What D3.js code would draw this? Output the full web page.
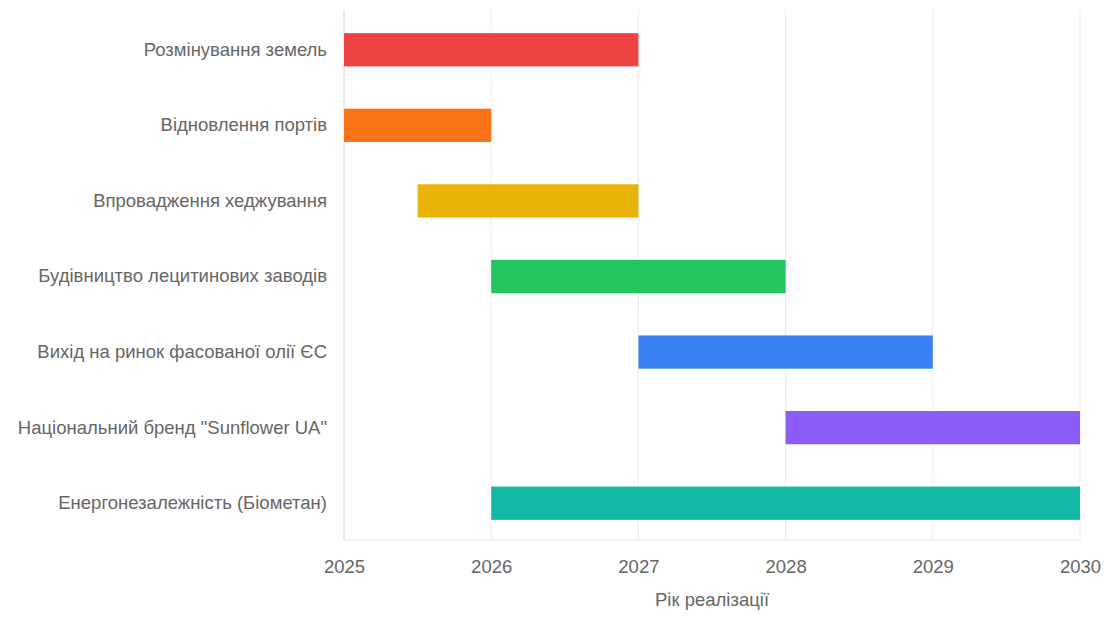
<!DOCTYPE html>
<html>
<head>
<meta charset="utf-8">
<script src="https://cdn.jsdelivr.net/npm/d3@7"></script>
<style>
  html, body { margin: 0; padding: 0; background: #fff; }
  svg { display: block; font-family: "Liberation Sans", Arial, sans-serif; }
</style>
</head>
<body>
<svg id="chart"></svg>
<script>
// ==============================
// DATA
// ==============================
const tasks = [
  "Розмінування земель",
  "Відновлення портів",
  "Впровадження хеджування",
  "Будівництво лецитинових заводів",
  "Вихід на ринок фасованої олії ЄС",
  "Національний бренд \"Sunflower UA\"",
  "Енергонезалежність (Біометан)"
];
const startYears = [2025, 2025, 2025.5, 2026, 2027, 2028, 2026];
const endYears   = [2027, 2026, 2027, 2028, 2029, 2030, 2030];
const barColors  = ["#ef4444", "#f97316", "#eab308", "#22c55e", "#3b82f6", "#8b5cf6", "#14b8a6"];
const yearTicks  = [2025, 2026, 2027, 2028, 2029, 2030];
const xTitle = "Рік реалізації";

// ==============================
// SVG + DIMENSIONS
// ==============================
const width = 1112;
const height = 617;
const margin = { top: 10, right: 32, bottom: 77, left: 344 };
const fontSize = "18.5px";

const svg = d3.select("#chart")
  .attr("width", width)
  .attr("height", height);

const innerW = width - margin.left - margin.right;
const innerH = height - margin.top - margin.bottom;

const x = d3.scaleLinear()
  .domain([2025, 2030])
  .range([margin.left, margin.left + innerW]);

// bands sit a touch lower than the grid top
const y = d3.scaleBand()
  .domain(tasks)
  .range([margin.top + 2, margin.top + innerH + 1])
  .paddingInner(0.56)
  .paddingOuter(0.28);

// grid
svg.append("g")
  .selectAll("line")
  .data(yearTicks)
  .join("line")
  .attr("x1", d => x(d))
  .attr("x2", d => x(d))
  .attr("y1", margin.top)
  .attr("y2", margin.top + innerH)
  .attr("stroke", "#ebebeb")
  .attr("stroke-width", 1);

// left axis line + bottom line
svg.append("line")
  .attr("x1", margin.left).attr("x2", margin.left)
  .attr("y1", margin.top).attr("y2", margin.top + innerH)
  .attr("stroke", "#dcdcdc");
svg.append("line")
  .attr("x1", margin.left).attr("x2", margin.left + innerW)
  .attr("y1", margin.top + innerH).attr("y2", margin.top + innerH)
  .attr("stroke", "#e4e4e4");

// bars
svg.append("g")
  .selectAll("rect")
  .data(tasks)
  .join("rect")
  .attr("x", (d, i) => x(startYears[i]))
  .attr("width", (d, i) => x(endYears[i]) - x(startYears[i]))
  .attr("y", d => y(d))
  .attr("height", y.bandwidth())
  .attr("fill", (d, i) => barColors[i]);

// x axis
const xAxis = d3.axisBottom(x)
  .tickValues(yearTicks)
  .tickFormat(d3.format("d"))
  .tickSize(0)
  .tickPadding(20);

const gx = svg.append("g")
  .attr("transform", `translate(0,${margin.top + innerH})`)
  .call(xAxis);
gx.select(".domain").remove();
gx.selectAll("text")
  .attr("fill", "#666")
  .style("font-size", fontSize);

// y axis
const yAxis = d3.axisLeft(y).tickSize(0).tickPadding(17);
const gy = svg.append("g")
  .attr("transform", `translate(${margin.left},0)`)
  .call(yAxis);
gy.select(".domain").remove();
gy.selectAll("text")
  .attr("fill", "#666")
  .style("font-size", fontSize);

// axis title
svg.append("text")
  .attr("x", margin.left + innerW / 2)
  .attr("y", 606)
  .attr("text-anchor", "middle")
  .attr("fill", "#666")
  .style("font-size", fontSize)
  .text(xTitle);
</script>
</body>
</html>
